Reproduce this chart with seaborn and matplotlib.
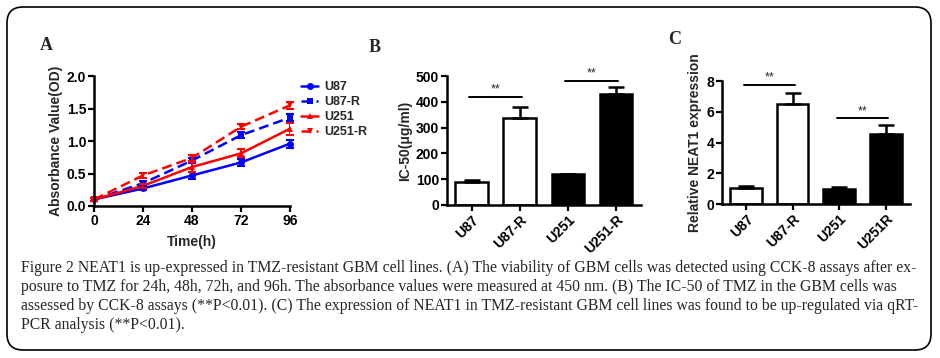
import numpy as np
import pandas as pd
import seaborn as sns
import matplotlib.pyplot as plt
from matplotlib.patches import FancyBboxPatch

# Panel A: absorbance over time
hours = [0, 24, 48, 72, 96]
series_names = ['U87', 'U87-R', 'U251', 'U251-R']
u87 = [0.10, 0.27, 0.47, 0.67, 0.96]
u87_r = [0.10, 0.35, 0.70, 1.09, 1.36]
u251 = [0.10, 0.31, 0.60, 0.81, 1.19]
u251_r = [0.10, 0.47, 0.74, 1.22, 1.55]
u87_err = [0.02, 0.03, 0.05, 0.05, 0.06]
u87_r_err = [0.02, 0.03, 0.04, 0.05, 0.05]
u251_err = [0.02, 0.03, 0.07, 0.06, 0.09]
u251_r_err = [0.02, 0.04, 0.04, 0.04, 0.05]

# Panel B: IC-50
ic50_labels = ['U87', 'U87-R', 'U251', 'U251-R']
ic50_vals = [89, 337, 119, 430]
ic50_err = [9, 44, 3, 26]
ic50_sig = [(0, 1, 419), (2, 3, 481)]

# Panel C: relative NEAT1 expression
neat1_labels = ['U87', 'U87-R', 'U251', 'U251R']
neat1_vals = [1.08, 6.49, 1.02, 4.54]
neat1_err = [0.12, 0.72, 0.10, 0.62]
neat1_sig = [(0, 1, 7.74), (2, 3, 5.58)]

caption_lines = [
    "Figure 2 NEAT1 is up-expressed in TMZ-resistant GBM cell lines. (A) The viability of GBM cells was detected using CCK-8 assays after ex-",
    "posure to TMZ for 24h, 48h, 72h, and 96h. The absorbance values were measured at 450 nm. (B) The IC-50 of TMZ in the GBM cells was",
    "assessed by CCK-8 assays (**P<0.01). (C) The expression of NEAT1 in TMZ-resistant GBM cell lines was found to be up-regulated via qRT-",
    "PCR analysis (**P<0.01).",
]


def style_axis(ax):
    sns.despine(ax=ax)
    for s in ['left', 'bottom']:
        ax.spines[s].set_linewidth(1.8)
    ax.tick_params(width=1.6, length=4, labelsize=10, pad=1.5)
    for lbl in ax.get_xticklabels() + ax.get_yticklabels():
        lbl.set_fontweight('bold')


def bar_panel(ax, labels, vals, errs, sig, ylim, yticks, ylabel, star_off):
    df = pd.DataFrame({'cell': labels, 'val': vals})
    colors = ['white', 'white', 'black', 'black']
    sns.barplot(data=df, x='cell', y='val', hue='cell', palette=dict(zip(labels, colors)),
                legend=False, edgecolor='black', linewidth=1.8, width=0.68, ax=ax)
    x = np.arange(len(vals))
    ax.errorbar(x, vals, yerr=[np.zeros(len(errs)), errs], fmt='none', ecolor='black',
                elinewidth=1.8, capsize=6, capthick=1.8, zorder=1)
    for a, b, h in sig:
        ax.plot([a - 0.05, b + 0.05], [h, h], color='black', lw=1.4)
        ax.text((a + b) / 2, h + star_off, '**', ha='center', va='bottom', fontsize=9)
    ax.set_xlim(-0.52, 3.52)
    ax.set_ylim(*ylim)
    ax.set_yticks(yticks)
    ax.set_xlabel('')
    ax.set_ylabel(ylabel, fontsize=10, fontweight='bold', labelpad=3)
    style_axis(ax)
    plt.setp(ax.get_xticklabels(), rotation=45, ha='right', rotation_mode='anchor')


def main():
    sns.set_style('ticks')
    plt.rcParams['font.family'] = ['Liberation Sans', 'DejaVu Sans']
    plt.rcParams['axes.edgecolor'] = 'black'
    plt.rcParams['xtick.color'] = 'black'
    plt.rcParams['ytick.color'] = 'black'

    fig = plt.figure(figsize=(9.4, 3.58), dpi=100)

    # rounded frame around the figure
    frame = FancyBboxPatch((0.07, 0.08), 9.24, 3.43, boxstyle='round,pad=0,rounding_size=0.16',
                           transform=fig.dpi_scale_trans, fill=False, edgecolor='black', lw=1.2)
    fig.patches.append(frame)

    # Panel A
    ax_a = fig.add_axes([0.1, 0.4246, 0.2085, 0.363])
    long = pd.DataFrame({
        'Time': hours * 4,
        'OD': u87 + u87_r + u251 + u251_r,
        'Line': sum([[n] * len(hours) for n in series_names], []),
    })
    pal = {'U87': '#0000ff', 'U87-R': '#0000ff', 'U251': '#ff0000', 'U251-R': '#ff0000'}
    marks = {'U87': 'o', 'U87-R': 's', 'U251': '^', 'U251-R': 'v'}
    dash = {'U87': '', 'U87-R': (4, 2), 'U251': '', 'U251-R': (4, 2)}
    sns.lineplot(data=long, x='Time', y='OD', hue='Line', style='Line', palette=pal,
                 markers=marks, dashes=dash, lw=1.8, markersize=5, markeredgewidth=0,
                 ax=ax_a)
    for name, vals, errs in zip(series_names, [u87, u87_r, u251, u251_r],
                                [u87_err, u87_r_err, u251_err, u251_r_err]):
        ax_a.errorbar(hours, vals, yerr=errs, fmt='none', ecolor=pal[name],
                      elinewidth=1.5, capsize=3, capthick=1.5)
    ax_a.set_xlim(0, 96)
    ax_a.set_ylim(0, 2.0)
    ax_a.set_xticks(hours)
    ax_a.set_yticks([0.0, 0.5, 1.0, 1.5, 2.0])
    ax_a.set_yticklabels(['0.0', '0.5', '1.0', '1.5', '2.0'])
    ax_a.set_xlabel('Time(h)', fontsize=10, fontweight='bold', labelpad=5)
    ax_a.set_ylabel('Absorbance Value(OD)', fontsize=10, fontweight='bold', labelpad=3)
    style_axis(ax_a)
    for line in ax_a.get_lines():
        line.set_clip_on(False)
    leg = ax_a.legend(loc='upper left', bbox_to_anchor=(1.03, 1.0), frameon=False,
                      fontsize=9, handlelength=1.4, handletextpad=0.5, labelspacing=0.25,
                      borderaxespad=0)
    for t in leg.get_texts():
        t.set_fontweight('bold')

    # Panel B
    ax_b = fig.add_axes([0.4752, 0.4274, 0.2067, 0.3603])
    bar_panel(ax_b, ic50_labels, ic50_vals, ic50_err, ic50_sig, (0, 500),
              [0, 100, 200, 300, 400, 500], 'IC-50(\u03bcg/ml)', 5)

    # Panel C
    ax_c = fig.add_axes([0.768, 0.4293, 0.2, 0.3444])
    bar_panel(ax_c, neat1_labels, neat1_vals, neat1_err, neat1_sig, (0, 8),
              [0, 2, 4, 6, 8], 'Relative NEAT1 expression', 0.08)

    # panel letters
    for lbl, xp, yp in [('A', 40, 45), ('B', 369, 47), ('C', 668, 40)]:
        fig.text(xp / 940, 1 - yp / 358, lbl, fontsize=13, fontweight='bold',
                 family=['Liberation Serif', 'DejaVu Serif'], ha='left', va='center')

    # caption
    ys = [268, 287, 306, 325]
    texts = []
    for line, yp in zip(caption_lines, ys):
        texts.append(fig.text(21 / 940, 1 - yp / 358, line, fontsize=10,
                              family=['Liberation Serif', 'DejaVu Serif'],
                              ha='left', va='center'))
    fig.canvas.draw()
    r = fig.canvas.get_renderer()
    w = max(t.get_window_extent(r).width for t in texts[:3])
    size = 10 * 897 / w
    for t in texts:
        t.set_fontsize(size)

    fig.savefig('out.png', dpi=100)
    plt.close(fig)


if __name__ == "__main__":
    main()
